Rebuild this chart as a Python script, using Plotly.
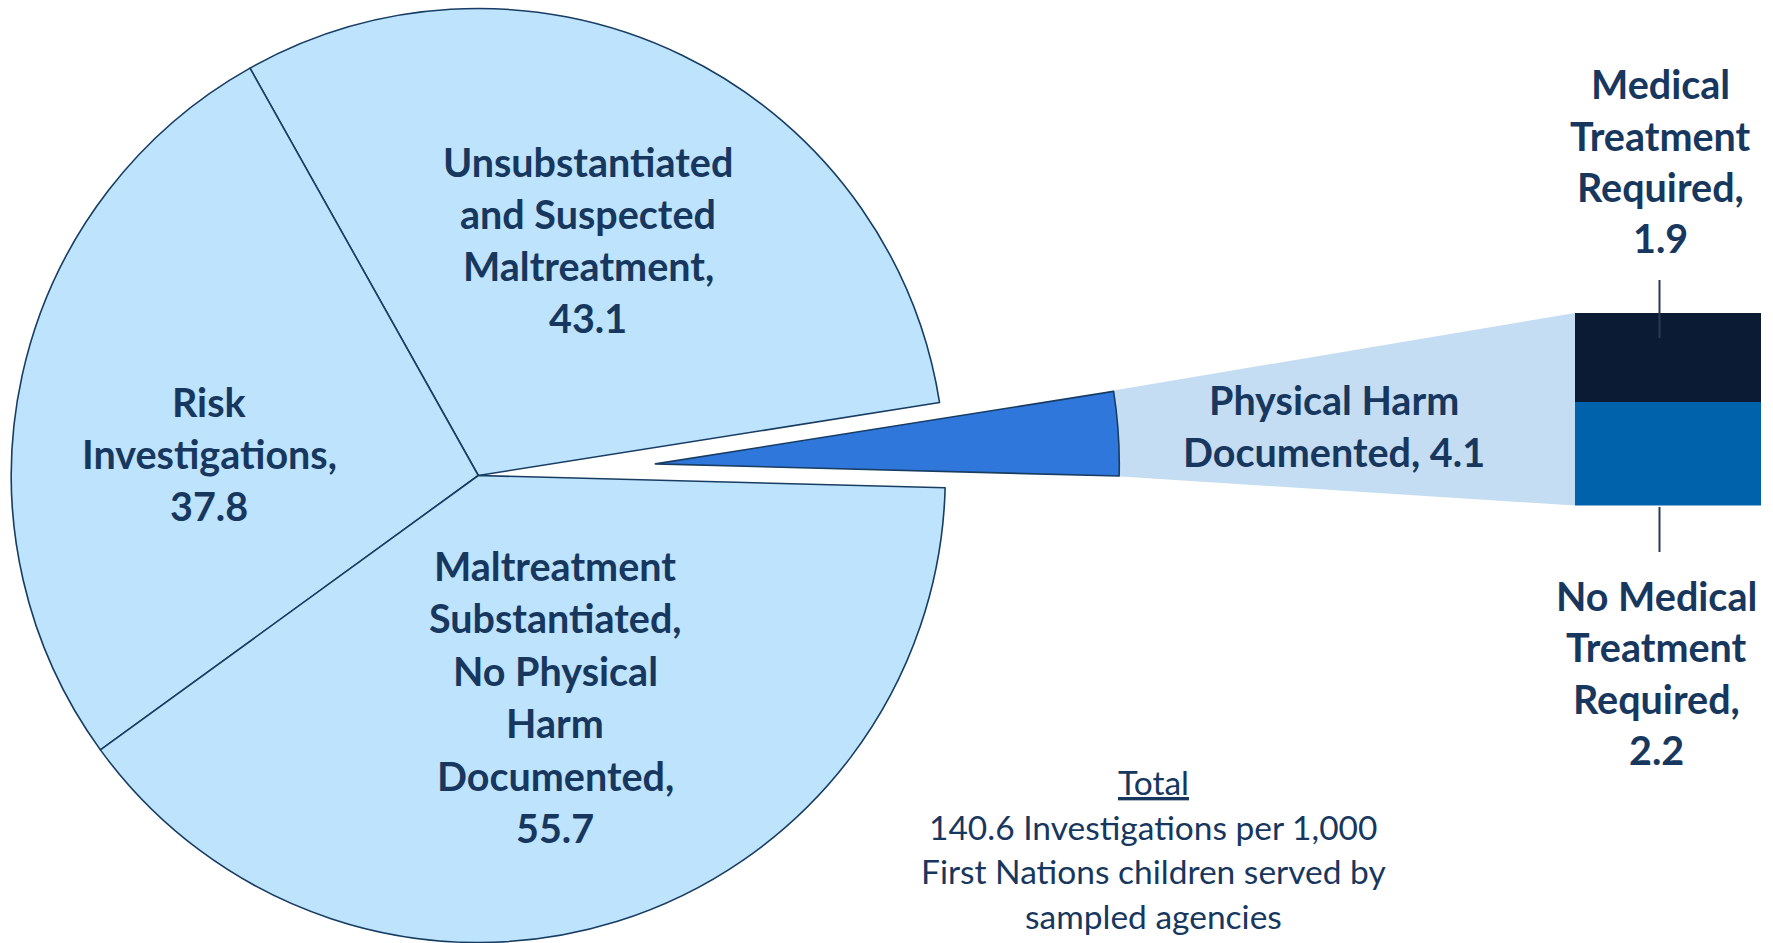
import math
import plotly.graph_objects as go

W, H = 1773, 943

# Investigation outcomes (rate per 1,000 First Nations children)
slice_labels = [
    "Physical Harm Documented",
    "Unsubstantiated and Suspected Maltreatment",
    "Risk Investigations",
    "Maltreatment Substantiated, No Physical Harm Documented",
]
slice_values = [4.1, 43.1, 37.8, 55.7]

# Breakdown of the physical-harm slice
harm_labels = ["No Medical Treatment Required", "Medical Treatment Required"]
harm_values = [2.2, 1.9]

total_rate = 140.6

# Colours
LIGHT = "#BEE3FD"
HARM = "#3077DC"
CONNECT = "#C4DDF2"
EDGE = "#173D63"
NAVY = "#0B1B33"
BLUE = "#0062AB"
TEXT = "#17375E"
CLEAR = "rgba(0,0,0,0)"

# Geometry (pixels)
PIE_CX, PIE_CY, PIE_R = 478.3, 475.5, 467.0
START_DEG = -1.5          # angle where the harm slice begins (counter-clockwise from 3 o'clock)
PULL = 0.38               # explode distance of the harm slice, as a fraction of radius
BAR_X0, BAR_X1 = 1575.0, 1761.0
BAR_TOP, BAR_BOTTOM = 313.0, 505.5


def px(x):
    return x / W


def py(y):
    return 1 - y / H


def domain(cx, cy, r):
    return dict(x=[px(cx - r), px(cx + r)], y=[py(cy + r), py(cy - r)])


total = sum(slice_values)
harm_span = 360.0 * slice_values[0] / total
mid = math.radians(START_DEG + harm_span / 2)
cx2 = PIE_CX + PULL * PIE_R * math.cos(mid)
cy2 = PIE_CY - PULL * PIE_R * math.sin(mid)
r2 = min(PIE_R, cy2)

# plotly places the first counter-clockwise slice so that it ends at `rotation`
rotation = 90 - (START_DEG + harm_span)
fig = go.Figure()

# Main pie with an empty gap where the harm slice sits
fig.add_trace(go.Pie(
    labels=slice_labels, values=slice_values, sort=False,
    direction="counterclockwise", rotation=rotation,
    marker=dict(colors=[CLEAR, LIGHT, LIGHT, LIGHT],
                line=dict(color=EDGE, width=[0, 1.6, 1.6, 1.6])),
    textinfo="none", hoverinfo="label+value", showlegend=False,
    domain=domain(PIE_CX, PIE_CY, PIE_R),
))

# Exploded harm slice
fig.add_trace(go.Pie(
    labels=slice_labels, values=slice_values, sort=False,
    direction="counterclockwise", rotation=rotation,
    marker=dict(colors=[HARM, CLEAR, CLEAR, CLEAR],
                line=dict(color=EDGE, width=[1.6, 0, 0, 0])),
    textinfo="none", hoverinfo="skip", showlegend=False,
    domain=domain(cx2, cy2, r2),
))

# Stacked bar for the harm breakdown
fig.add_trace(go.Bar(x=[0], y=[harm_values[0]], marker=dict(color=BLUE, line=dict(width=0)),
                     width=1, name=harm_labels[0], xaxis="x2", yaxis="y2", showlegend=False))
fig.add_trace(go.Bar(x=[0], y=[harm_values[1]], marker=dict(color=NAVY, line=dict(width=0)),
                     width=1, name=harm_labels[1], xaxis="x2", yaxis="y2", showlegend=False))

bar_max = sum(harm_values)

# Connector between exploded slice and the bar
a0 = math.radians(START_DEG)
a1 = math.radians(START_DEG + harm_span)
top_pt = (cx2 + r2 * math.cos(a1), cy2 - r2 * math.sin(a1))
bot_pt = (cx2 + r2 * math.cos(a0), cy2 - r2 * math.sin(a0))
conn = [(top_pt[0] - 6, top_pt[1]), (BAR_X0, BAR_TOP), (BAR_X0, BAR_BOTTOM), (bot_pt[0] - 6, bot_pt[1])]
path = "M " + " L ".join(f"{px(x):.5f},{py(y):.5f}" for x, y in conn) + " Z"

shapes = [
    dict(type="path", xref="paper", yref="paper", path=path,
         fillcolor=CONNECT, line=dict(width=0), layer="below"),
    dict(type="line", xref="paper", yref="paper", x0=px(1659.5), x1=px(1659.5),
         y0=py(280), y1=py(338), line=dict(color="#2B3A4C", width=2)),
    dict(type="line", xref="paper", yref="paper", x0=px(1659.5), x1=px(1659.5),
         y0=py(507), y1=py(552), line=dict(color="#2B3A4C", width=2)),
]

annotations = []


def add_label(lines, x, y0, step, size=39.5, bold=True):
    for i, line in enumerate(lines):
        annotations.append(dict(
            x=px(x), y=py(y0 + i * step), xref="paper", yref="paper",
            text=line, showarrow=False, xanchor="center", yanchor="middle",
            font=dict(family="Lato", size=size, color=TEXT,
                      weight="bold" if bold else "normal"),
        ))


def fmt(v):
    return f"{v:.1f}"


add_label(["Unsubstantiated", "and Suspected", "Maltreatment,", fmt(slice_values[1])],
          588, 161.0, 52)
add_label(["Risk", "Investigations,", fmt(slice_values[2])], 209, 401.5, 52)
add_label(["Maltreatment", "Substantiated,", "No Physical", "Harm", "Documented,",
           fmt(slice_values[3])], 555, 565.5, 52.4)
add_label(["Physical Harm", "Documented, " + fmt(slice_values[0])], 1334, 399.5, 52)
add_label(["Medical", "Treatment", "Required,", fmt(harm_values[1])], 1660, 83.8, 51.3)
add_label(["No Medical", "Treatment", "Required,", fmt(harm_values[0])], 1656.5, 595.0, 51.6)
add_label(["<u>Total</u>", f"{total_rate} Investigations per 1,000",
           "First Nations children served by", "sampled agencies"],
          1153, 782.0, 44.5, size=33.5, bold=False)

fig.update_layout(
    width=W, height=H,
    margin=dict(l=0, r=0, t=0, b=0, pad=0),
    paper_bgcolor="white", plot_bgcolor="rgba(0,0,0,0)",
    barmode="stack", bargap=0,
    xaxis2=dict(domain=[px(BAR_X0), px(BAR_X1)], range=[-0.5, 0.5], visible=False,
                fixedrange=True, anchor="y2"),
    yaxis2=dict(domain=[py(BAR_BOTTOM), py(BAR_TOP)], range=[0, bar_max], visible=False,
                fixedrange=True, anchor="x2"),
    shapes=shapes,
    annotations=annotations,
)

fig.write_html("out.html")
